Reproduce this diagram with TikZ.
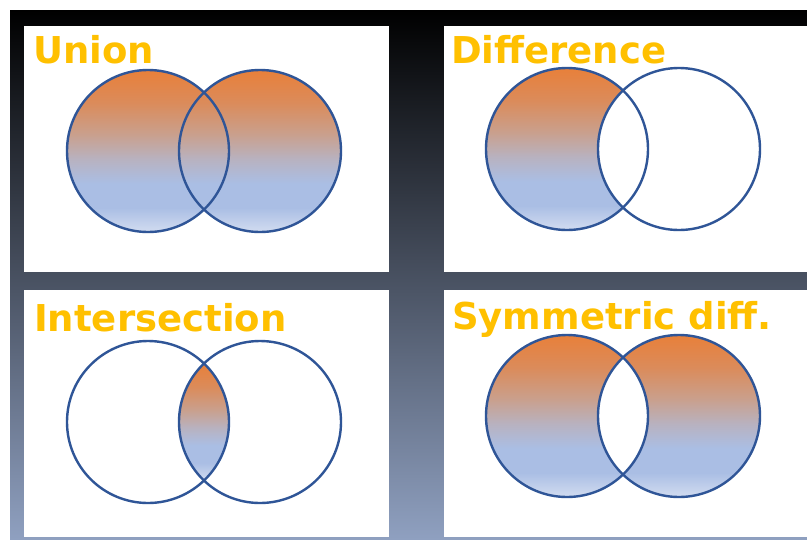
\documentclass[tikz,border=0pt]{standalone}
\usepackage{fontspec}
\setsansfont{DejaVu Sans}

\definecolor{amarillo}{HTML}{FFC000}
\definecolor{borde}{HTML}{2F5597}
\definecolor{fondoabajo}{HTML}{8FA0C0}
\definecolor{vnaranja}{HTML}{E8803A}
\definecolor{vcobre}{HTML}{DB8B5A}
\definecolor{vtostado}{HTML}{C9A08E}
\definecolor{vgris}{HTML}{B8B2C0}
\definecolor{vazul}{HTML}{AABEE4}
\definecolor{vclaro}{HTML}{D2DCF0}

% degradado de los conjuntos: el rango 25bp..75bp cubre la figura
\pgfdeclareverticalshading{venn}{100bp}{
  color(0bp)=(vclaro); color(25bp)=(vclaro); color(32.5bp)=(vazul);
  color(40bp)=(vazul); color(47.5bp)=(vgris); color(55bp)=(vtostado);
  color(65bp)=(vcobre); color(75bp)=(vnaranja); color(100bp)=(vnaranja)}

\begin{document}
\begin{tikzpicture}[x=1pt, y=-1pt,
  rotulo/.style={font=\sffamily\bfseries\fontsize{37}{40}\selectfont,
    text=amarillo, inner sep=0pt, anchor=base west},
  conjunto/.style={draw=borde, line width=2.4pt},
  panel/.style={fill=white}]

\useasboundingbox (0,0) rectangle (807,539);

% ── Fondo ─────────────────────────────────────────────────────
\shade[top color=black, bottom color=fondoabajo] (10,10) rectangle (807,539);

\fill[panel] (24,  26)  rectangle (389, 272);  % union
\fill[panel] (444, 26)  rectangle (807, 272);  % diferencia
\fill[panel] (24,  290) rectangle (389, 537);  % interseccion
\fill[panel] (444, 290) rectangle (807, 537);  % simetrica

% ── Union ─────────────────────────────────────────────────────
\node[rotulo] (union) at (33, 63) {Union};
\shade[shading=venn] (148,151) circle[radius=81] (260,151) circle[radius=81];
\draw[conjunto] (148,151) circle[radius=81];
\draw[conjunto] (260,151) circle[radius=81];

% ── Diferencia ────────────────────────────────────────────────
\node[rotulo] (diferencia) at (451, 63) {Difference};
\begin{scope}
  \clip (567,149) circle[radius=81];
  \shade[shading=venn, even odd rule]
    (567,149) circle[radius=81] (679,149) circle[radius=81];
\end{scope}
\draw[conjunto] (567,149) circle[radius=81];
\draw[conjunto] (679,149) circle[radius=81];

% ── Interseccion ──────────────────────────────────────────────
% cortes: x = 204, y = 422 -+ 58.5
\node[rotulo] (interseccion) at (34, 331) {Intersection};
\begin{scope}
  \clip (148,422) circle[radius=81];
  \clip (260,422) circle[radius=81];
  \shade[shading=venn] (179,363.5) rectangle (229,480.5);
\end{scope}
\draw[conjunto] (148,422) circle[radius=81];
\draw[conjunto] (260,422) circle[radius=81];

% ── Diferencia simetrica ──────────────────────────────────────
\node[rotulo] (simetrica) at (452, 329) {Symmetric diff.};
\shade[shading=venn, even odd rule]
  (567,416) circle[radius=81] (679,416) circle[radius=81];
\draw[conjunto] (567,416) circle[radius=81];
\draw[conjunto] (679,416) circle[radius=81];

\end{tikzpicture}
\end{document}
